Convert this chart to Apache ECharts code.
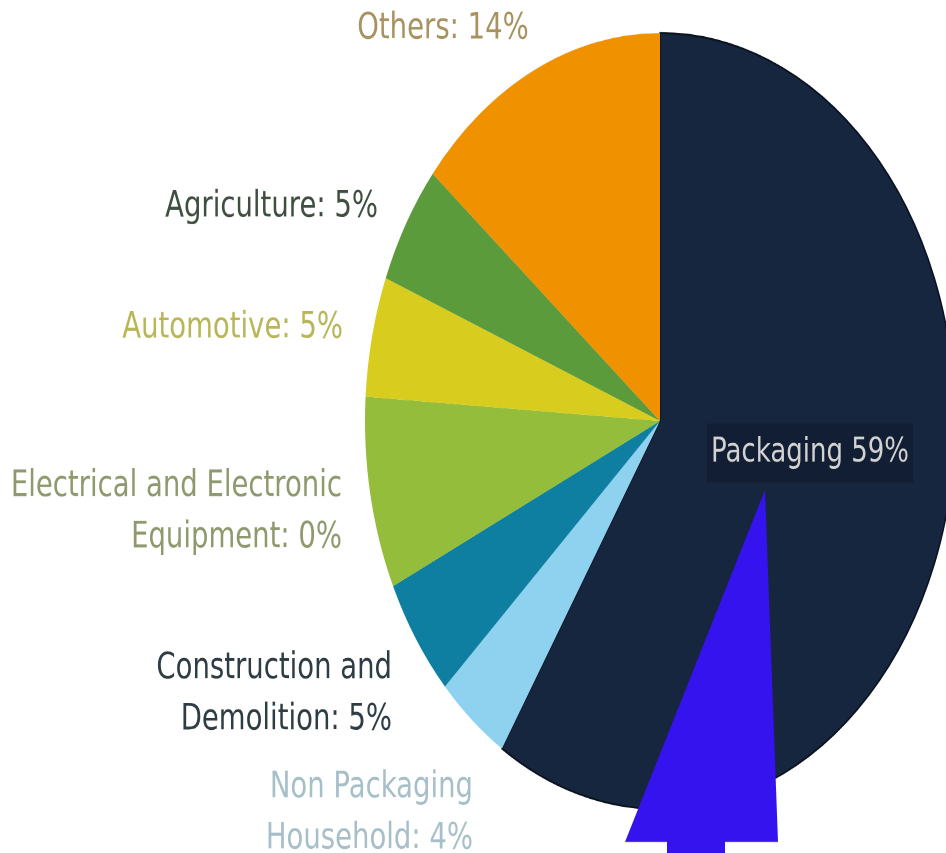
<!DOCTYPE html>
<html>
<head>
<meta charset="utf-8">
<script src="https://cdn.jsdelivr.net/npm/echarts@6/dist/echarts.min.js"></script>
<style>
html,body{margin:0;padding:0;background:#fff;overflow:hidden;}
#wrap{width:946px;height:853px;overflow:hidden;position:relative;}
#c{width:946px;position:absolute;left:0;top:0;transform-origin:0 0;}
</style>
</head>
<body>
<div id="wrap"><div id="c"></div></div>
<script>
// Data
const categories = ['Packaging', 'Non Packaging Household', 'Construction and Demolition', 'Electrical and Electronic Equipment', 'Automotive', 'Agriculture', 'Others'];
const values = [59, 4, 5, 8, 5, 5, 14];
const labelTexts = ['Packaging 59%', 'Non Packaging\nHousehold: 4%', 'Construction and\nDemolition: 5%', 'Electrical and Electronic\nEquipment: 0%', 'Automotive: 5%', 'Agriculture: 5%', 'Others: 14%'];

// Styling / layout (separate from data)
const sliceColors = ['#17263f', '#8ed2f0', '#0f7fa1', '#93bd3a', '#d8cd1e', '#5b9b3b', '#f09200'];
const labelColors = ['#d2d2d2', '#a7bfc8', '#2e3d44', '#8e9a6e', '#b8b656', '#3e4f40', '#a89260'];
const stretch = 1.315; // vertical stretch of the whole picture
// [x, y (in final picture px), align]
const labelPos = [[810, 453, 'center'], [473, 813, 'right'], [392, 694, 'right'], [342, 512, 'right'], [343, 328, 'right'], [378, 207, 'right'], [443, 29, 'center']];
const arrowPts = [[765, 490], [778, 842], [725, 842], [725, 870], [667, 870], [667, 842], [625, 842]];

const H = 853 / stretch;
const el = document.getElementById('c');
el.style.height = H + 'px';
el.style.transform = 'scaleY(' + stretch + ')';

const chart = echarts.init(el, null, {renderer: 'canvas', devicePixelRatio: 2});
const data = categories.map((name, i) => ({
  name: name,
  value: values[i],
  itemStyle: i === 0 ? {color: sliceColors[i], borderColor: '#0a1220', borderWidth: 1.5} : {color: sliceColors[i]},
  label: i === 0 ? {
    color: labelColors[i],
    backgroundColor: 'rgba(8,16,30,0.35)',
    padding: [3, 4],
    fontSize: 26
  } : {color: labelColors[i]}
}));

chart.setOption({
  animation: false,
  backgroundColor: '#ffffff',
  series: [{
    type: 'pie',
    center: [660, 421 / stretch],
    radius: 295,
    startAngle: 90,
    clockwise: true,
    avoidLabelOverlap: false,
    data: data,
    label: {
      show: true,
      position: 'outside',
      fontFamily: 'DejaVu Sans',
      fontSize: 27.5,
      lineHeight: 38.8,
      formatter: p => labelTexts[p.dataIndex]
    },
    labelLine: {show: false},
    labelLayout: function (p) {
      const lp = labelPos[p.dataIndex];
      return {x: lp[0], y: lp[1] / stretch, align: lp[2], verticalAlign: 'middle', hideOverlap: false};
    },
    emphasis: {disabled: true}
  }],
  graphic: [{
    type: 'polygon',
    shape: {points: arrowPts.map(p => [p[0], p[1] / stretch])},
    style: {fill: '#3413ef'},
    z: 100
  }]
});
</script>
</body>
</html>
